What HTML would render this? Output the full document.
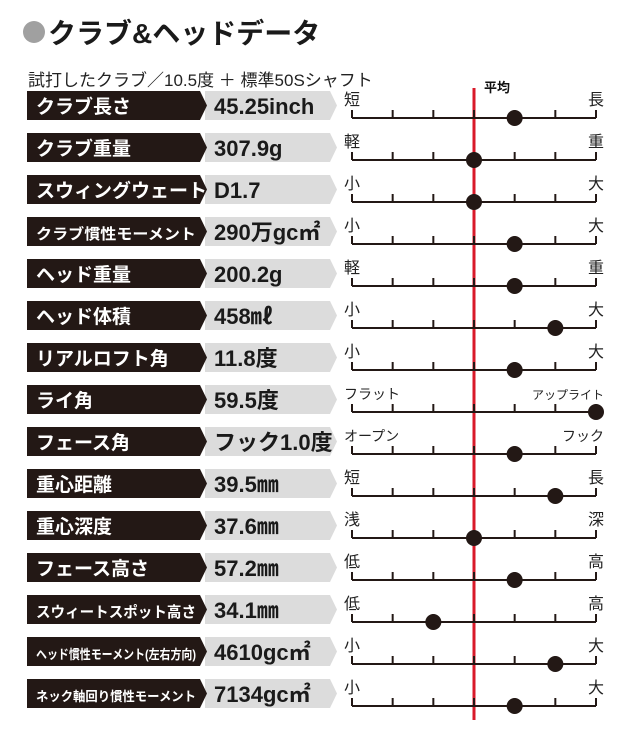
<!DOCTYPE html>
<html><head><meta charset="utf-8"><style>
body{margin:0;background:#fff;width:640px;height:725px;overflow:hidden;font-family:"Liberation Sans","Noto Sans CJK JP",sans-serif;}
svg text{font-family:"Liberation Sans","Noto Sans CJK JP",sans-serif;}
</style></head><body>
<svg id="chart" width="640" height="725" viewBox="0 0 640 725" xmlns="http://www.w3.org/2000/svg">
<circle cx="34" cy="32" r="11" fill="#a0a0a0"/>
<text x="48" y="43" font-size="28" font-weight="bold" fill="#1a1a1a">クラブ&amp;ヘッドデータ</text>
<text x="28" y="86" font-size="17" fill="#222">試打したクラブ／10.5度 ＋ 標準50Sシャフト</text>
<g id="rows"></g>
</svg>
<script>
const labels=["クラブ長さ","クラブ重量","スウィングウェート","クラブ慣性モーメント","ヘッド重量","ヘッド体積","リアルロフト角","ライ角","フェース角","重心距離","重心深度","フェース高さ","スウィートスポット高さ","ヘッド慣性モーメント(左右方向)","ネック軸回り慣性モーメント"];
const values=["45.25inch","307.9g","D1.7","290万gc㎡","200.2g","458㎖","11.8度","59.5度","フック1.0度","39.5㎜","37.6㎜","57.2㎜","34.1㎜","4610gc㎡","7134gc㎡"];
const leftEnds=["短","軽","小","小","軽","小","小","フラット","オープン","短","浅","低","低","小","小"];
const rightEnds=["長","重","大","大","重","大","大","アップライト","フック","長","深","高","高","大","大"];
const scores=[1,0,0,1,1,2,1,3,1,2,0,1,-1,2,1];
const ns="http://www.w3.org/2000/svg";
const g=document.getElementById('rows');
const x0=352,x1=596;
function xs(v){return x0+(v+3)/6*(x1-x0);}
function yb(i){return 118+i*42;}
function mk(t,a){const e=document.createElementNS(ns,t);for(const k in a)e.setAttribute(k,a[k]);return e;}
// avg line
const avg=mk('line',{x1:xs(0),x2:xs(0),y1:88,y2:720,stroke:'#d91a2a','stroke-width':3});


g.appendChild(avg);
const avgT=mk('text',{x:xs(0)+10,y:92,'font-size':13,'font-weight':'bold',fill:'#111'});avgT.textContent='平均';


g.appendChild(avgT);
labels.forEach((lab,i)=>{
  const b=yb(i),top=b-27,h=29;
  const gray=mk('polygon',{points:`205,${top} 330,${top} 337,${top+h/2} 330,${top+h} 205,${top+h}`,fill:'#dcdcdc'});
  
  
  g.appendChild(gray);
  const blk=mk('polygon',{points:`27,${top} 200,${top} 207,${top+h/2} 200,${top+h} 27,${top+h}`,fill:'#231815'});
  
  
  g.appendChild(blk);
  const long=lab.length>9;
  const lt=mk('text',{x:36,y:top+22,'font-size':long?(lab.length>12?13:15):19,'font-weight':'bold',fill:'#fff'});
  if(long){lt.setAttribute('textLength',160);lt.setAttribute('lengthAdjust','spacingAndGlyphs');}
  lt.textContent=lab;
  
  
  g.appendChild(lt);
  const vt=mk('text',{x:214,y:top+23,'font-size':22,'font-weight':'bold',fill:'#1a1a1a'});vt.textContent=values[i];
  
  
  g.appendChild(vt);
  const ax=mk('line',{x1:x0,x2:x1,y1:b,y2:b,stroke:'#231815','stroke-width':2});
  
  
  g.appendChild(ax);
  for(let k=-3;k<=3;k++){
    const tk=mk('line',{x1:xs(k),x2:xs(k),y1:b-8,y2:b,stroke:'#231815','stroke-width':2});
    
    
    g.appendChild(tk);
  }
  const le=mk('text',{x:x0-8,y:b-13,'font-size':leftEnds[i].length>1?14:16,fill:'#222'});le.textContent=leftEnds[i];
  
  
  g.appendChild(le);
  const re=mk('text',{x:x1+8,y:b-13,'text-anchor':'end','font-size':rightEnds[i].length>1?14:16,fill:'#222'});re.textContent=rightEnds[i];
  if(rightEnds[i].length>4){re.setAttribute('font-size',12);}
  
  
  g.appendChild(re);
  const dot=mk('circle',{cx:xs(scores[i]),cy:b,r:8,fill:'#231815'});
  
  
  g.appendChild(dot);
});
</script>
</body></html>
